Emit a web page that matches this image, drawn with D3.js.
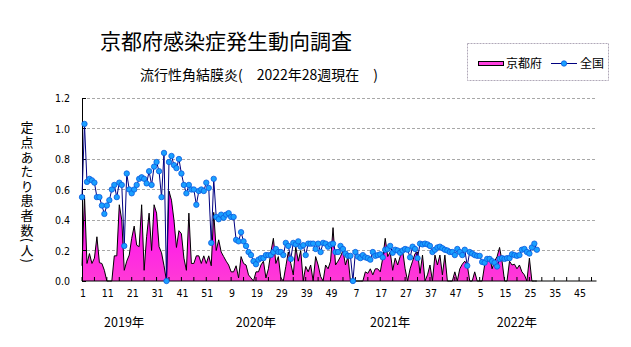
<!DOCTYPE html>
<html><head><meta charset="utf-8">
<script src="https://cdn.jsdelivr.net/npm/d3@7"></script>
<style>
html,body{margin:0;padding:0;background:#fff;}
svg{display:block;}
.num{font-family:"DejaVu Sans Condensed","Liberation Sans",sans-serif;font-size:10.5px;fill:#000;}
.jp{font-family:"Noto Sans CJK JP",sans-serif;fill:#000;}
</style></head>
<body>
<svg id="c" width="631" height="347"></svg>
<script>
const title = "京都府感染症発生動向調査";
const subtitle = "流行性角結膜炎(　2022年28週現在　)";
const yTitle = "定点あたり患者数(人)";
const years = ["2019年","2020年","2021年","2022年"];
const weeksPerYear = 52;
const yearLabelIdx = [17, 70, 124, 175];
const yTicks = [0,0.2,0.4,0.6,0.8,1.0,1.2];
const seriesNames = ["京都府","全国"];

// 京都府 (2019w1 - 2022w28)
const kyoto2019 = [0.10,0.56,0.115,0.18,0.115,0.15,0.29,0.12,0.115,0.07,0,0,0,0.165,0.165,0.5,0.4,0.07,0.13,0.17,0.28,0.36,0.235,0.225,0.5,0.07,0.29,0.445,0.2,0.5,0.445,0.225,0.185,0.1,0,0.59,0.53,0.4,0.22,0.33,0.31,0.15,0.07,0.445,0.115,0.115,0.165,0.165,0.115,0.165,0.115,0.165];
const kyoto2020 = [0.1,0.45,0.2,0.27,0.19,0.16,0.13,0.105,0.06,0.06,0.1,0.02,0.16,0.115,0.105,0.04,0.02,0,0.06,0.06,0.105,0.13,0.02,0.08,0.19,0.28,0.115,0.16,0.02,0,0.095,0.19,0.115,0.04,0.225,0.13,0.2,0,0.095,0.06,0.105,0,0.16,0.105,0.03,0,0.105,0.08,0.13,0.35,0.105,0.13];
const kyoto2021 = [0.16,0.2,0.105,0.16,0,0,0,0,0,0,0.06,0.05,0.08,0.04,0.08,0.08,0.06,0.15,0.28,0.16,0.19,0.07,0.15,0.105,0.16,0.2,0.08,0,0.08,0.13,0.18,0.19,0.05,0.17,0,0.04,0.105,0,0.17,0.105,0.17,0.04,0.17,0,0,0,0.06,0,0.08,0.11,0.13,0.105];
const kyoto2022 = [0,0,0.06,0,0,0,0.105,0.13,0.16,0.08,0.13,0.16,0.22,0.13,0,0,0.13,0.105,0.11,0.08,0.105,0.06,0.04,0,0.15,0,0,0];

// 全国
const zenkoku2019 = [0.55,1.03,0.65,0.67,0.66,0.645,0.55,0.55,0.495,0.44,0.495,0.53,0.60,0.63,0.55,0.645,0.63,0.23,0.705,0.60,0.575,0.60,0.63,0.67,0.68,0.67,0.64,0.72,0.63,0.75,0.78,0.72,0.55,0.84,0.0,0.78,0.82,0.76,0.74,0.80,0.705,0.63,0.575,0.63,0.60,0.60,0.50,0.59,0.60,0.59,0.645,0.61];
const zenkoku2020 = [0.25,0.67,0.42,0.405,0.435,0.415,0.435,0.445,0.42,0.42,0.27,0.26,0.32,0.26,0.23,0.19,0.17,0.13,0.11,0.14,0.15,0.15,0.17,0.17,0.17,0.19,0.21,0.19,0.19,0.17,0.25,0.23,0.145,0.25,0.24,0.26,0.225,0.235,0.17,0.245,0.245,0.245,0.21,0.245,0.19,0.25,0.245,0.225,0.24,0.245,0.19,0.19];
const zenkoku2021 = [0.23,0.21,0.18,0.165,0.165,0.0,0.19,0.16,0.15,0.17,0.155,0.15,0.14,0.19,0.165,0.17,0.175,0.155,0.205,0.21,0.23,0.185,0.205,0.2,0.185,0.2,0.21,0.205,0.155,0.225,0.21,0.15,0.245,0.24,0.245,0.24,0.23,0.19,0.205,0.22,0.225,0.215,0.205,0.2,0.19,0.19,0.17,0.21,0.19,0.17,0.205,0.1];
const zenkoku2022 = [0.19,0.18,0.17,0.165,0.165,0.125,0.12,0.145,0.145,0.13,0.12,0.095,0.145,0.15,0.145,0.15,0.15,0.175,0.17,0.165,0.17,0.205,0.21,0.19,0.18,0.22,0.245,0.205];

const kyoto = [...kyoto2019, ...kyoto2020, ...kyoto2021, ...kyoto2022];
const zenkoku = [...zenkoku2019, ...zenkoku2020, ...zenkoku2021, ...zenkoku2022];
const nCat = weeksPerYear * years.length;
const categories = d3.range(nCat);
const weekOf = i => (i % weeksPerYear) + 1;

const svg = d3.select("#c");
const x = d3.scalePoint().domain(categories).range([82, 596.5]);
const y = d3.scaleLinear().domain([0, 1.2]).range([281, 98]);

const defs = svg.append("defs");
const grad = defs.append("linearGradient").attr("id","mag")
  .attr("gradientUnits","userSpaceOnUse").attr("x1",0).attr("x2",0).attr("y1",y(0.6)).attr("y2",y(0));
grad.append("stop").attr("offset","0%").attr("stop-color","#ff00ff");
grad.append("stop").attr("offset","100%").attr("stop-color","#ff3ad6");

// titles
svg.append("text").attr("class","jp").attr("x",100).attr("y",49).attr("font-size","21px").text(title);
svg.append("text").attr("class","jp").attr("x",140).attr("y",80).attr("font-size","14px").style("white-space","pre").text(subtitle);

// gridlines
svg.append("g").selectAll("line").data(yTicks.filter(d=>d>0)).join("line")
  .attr("x1",82).attr("x2",596.5).attr("y1",d=>y(d)).attr("y2",d=>y(d))
  .attr("stroke","#a8a8a8").attr("stroke-dasharray","3,2").attr("stroke-width",1).attr("shape-rendering","crispEdges");

// Kyoto area
const area = d3.area().x((d,i)=>x(i)).y0(y(0)).y1(d=>y(d));
svg.append("path").datum(kyoto).attr("d",area).attr("fill","url(#mag)");
const line = d3.line().x((d,i)=>x(i)).y(d=>y(d));
svg.append("path").datum(kyoto).attr("d",line).attr("fill","none").attr("stroke","#000").attr("stroke-width",1);

// y axis
const gy = svg.append("g").attr("transform","translate(82,0)");
gy.append("line").attr("x1",0).attr("x2",0).attr("y1",y(1.2)).attr("y2",y(0)).attr("stroke","#000").attr("shape-rendering","crispEdges");
gy.selectAll("line.t").data(yTicks).join("line").attr("class","t").attr("x1",0).attr("x2",4).attr("y1",d=>y(d)).attr("y2",d=>y(d)).attr("stroke","#000").attr("shape-rendering","crispEdges");
gy.selectAll("text").data(yTicks).join("text").attr("class","num").attr("x",-12).attr("y",d=>y(d)+4).attr("text-anchor","end").text(d=>d3.format(".1f")(d));

// x axis
const gx = svg.append("g");
gx.append("line").attr("x1",82).attr("x2",596.5).attr("y1",y(0)).attr("y2",y(0)).attr("stroke","#000").attr("stroke-width",1.2);
gx.selectAll("line.t").data(categories.filter(i=>i%5===0)).join("line").attr("class","t")
  .attr("x1",i=>x(i)).attr("x2",i=>x(i)).attr("y1",y(0)).attr("y2",y(0)-4).attr("stroke","#000");
gx.selectAll("text").data(categories.filter(i=>i%10===0)).join("text").attr("class","num")
  .attr("x",i=>x(i)+1).attr("y",y(0)+16).attr("text-anchor","middle").text(i=>weekOf(i));

// year labels
svg.append("g").selectAll("text").data(years).join("text").attr("class","jp")
  .attr("x",(d,k)=>x(yearLabelIdx[k])).attr("y",327).attr("text-anchor","middle").attr("font-size","12.5px").text(d=>d);

// y title: single vertical text
svg.append("text").attr("class","jp").attr("x",27).attr("y",121)
  .attr("font-size","13px")
  .style("writing-mode","vertical-rl").style("text-orientation","mixed")
  .style("letter-spacing","1.6px")
  .text(yTitle);

// national line
svg.append("path").datum(zenkoku).attr("d",line).attr("fill","none").attr("stroke","#000080").attr("stroke-width",1);
svg.append("g").selectAll("circle").data(zenkoku).join("circle")
  .attr("cx",(d,i)=>x(i)).attr("cy",d=>y(d)).attr("r",2.7)
  .attr("fill","#1aa0ff").attr("stroke","#0a5ae0").attr("stroke-width",0.8);

// legend
const lg = svg.append("g");
lg.append("rect").attr("x",467.5).attr("y",43.5).attr("width",141).attr("height",37)
  .attr("fill","#fff").attr("stroke","#b0a8b8").attr("stroke-dasharray","2,1");
lg.append("rect").attr("x",478.5).attr("y",61.5).attr("width",25).attr("height",4).attr("fill","#ff40e0").attr("stroke","#000").attr("stroke-width",1);
lg.append("text").attr("class","jp").attr("x",506).attr("y",68).attr("font-size","12px").text(seriesNames[0]);
lg.append("line").attr("x1",551).attr("x2",577).attr("y1",63.5).attr("y2",63.5).attr("stroke","#000080");
lg.append("circle").attr("cx",564).attr("cy",63.5).attr("r",2.7).attr("fill","#1aa0ff").attr("stroke","#0a5ae0").attr("stroke-width",0.8);
lg.append("text").attr("class","jp").attr("x",580).attr("y",68).attr("font-size","12px").text(seriesNames[1]);
</script>
</body></html>
